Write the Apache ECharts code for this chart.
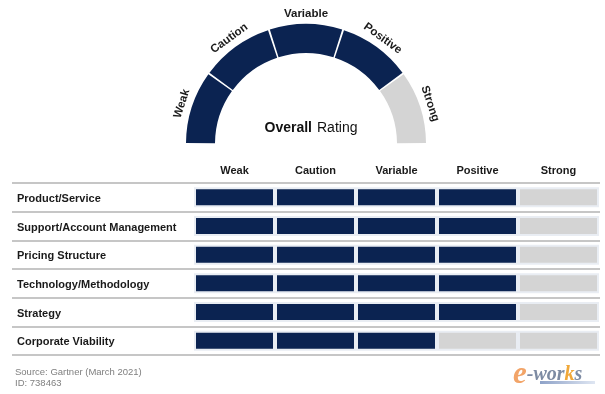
<!DOCTYPE html>
<html>
<head>
<meta charset="utf-8">
<script src="https://cdn.jsdelivr.net/npm/echarts@6/dist/echarts.min.js"></script>
<style>
html,body{margin:0;padding:0;background:#fff;}
#c{width:605px;height:394px;}
</style>
</head>
<body>
<div id="c"></div>
<script>
// ---- data ----
var ratingLevels = ['Weak', 'Caution', 'Variable', 'Positive', 'Strong'];
var overallScore = 4; // filled segments of the gauge
var rowCategories = ['Product/Service', 'Support/Account Management', 'Pricing Structure', 'Technology/Methodology', 'Strategy', 'Corporate Viability'];
var rowScores = [4, 4, 4, 4, 4, 3];
var sourceText = 'Source: Gartner (March 2021)';
var idText = 'ID: 738463';

// ---- styles ----
var NAVY = '#0b2351';
var GREY = '#d4d4d4';
var FONT = '"Liberation Sans", Arial, sans-serif';

var chart = echarts.init(document.getElementById('c'), null, {renderer: 'canvas'});

var gaugeData = ratingLevels.map(function (lv, i) {
  return {name: lv, value: 1, itemStyle: {color: i < overallScore ? NAVY : GREY}};
});
gaugeData.push({name: '', value: ratingLevels.length, itemStyle: {color: 'rgba(0,0,0,0)'}, label: {show: false}});

var labelRing = ratingLevels.map(function (lv) { return {name: lv, value: 1}; });
labelRing.push({name: '', value: ratingLevels.length, label: {show: false}});

var barSeries = ratingLevels.map(function (lv, ci) {
  return {
    type: 'bar', name: lv, stack: 'cells', xAxisIndex: 1, yAxisIndex: 1,
    barWidth: 20, silent: true,
    itemStyle: {borderColor: '#e9edf3', borderWidth: 2},
    data: rowScores.map(function (s) {
      return {value: 1, itemStyle: {color: s > ci ? NAVY : GREY}};
    })
  };
});

var option = {
  animation: false,
  backgroundColor: '#ffffff',
  title: [
    {
      text: '{b|Overall} {n|Rating}',
      left: 306, top: 114, textAlign: 'center',
      textStyle: {rich: {
        b: {fontFamily: FONT, fontSize: 14, fontWeight: 'bold', color: '#111'},
        n: {fontFamily: FONT, fontSize: 14, fontWeight: 'normal', color: '#111'}
      }}
    },
    {
      text: sourceText + '\n' + idText,
      left: 10, top: 362,
      textStyle: {fontFamily: FONT, fontSize: 9.5, fontWeight: 'normal', color: '#7f7f7f', lineHeight: 11}
    },
    {
      text: '{e|e}{w|-wor}{k|k}{s|s}',
      left: 508, top: 354,
      textStyle: {rich: {
        e: {fontFamily: '"Liberation Serif", serif', fontStyle: 'italic', fontSize: 31, color: '#f2a468'},
        w: {fontFamily: '"Liberation Serif", serif', fontStyle: 'italic', fontWeight: 'bold', fontSize: 20, color: '#7d8ba3'},
        k: {fontFamily: '"Liberation Serif", serif', fontStyle: 'italic', fontWeight: 'bold', fontSize: 20, color: '#f0a83a'},
        s: {fontFamily: '"Liberation Serif", serif', fontStyle: 'italic', fontWeight: 'bold', fontSize: 20, color: '#7d8ba3'}
      }}
    }
  ],
  graphic: [
    {type: 'rect', left: 540, top: 381, z: -1, shape: {width: 55, height: 3},
     style: {fill: new echarts.graphic.LinearGradient(0, 0, 1, 0, [{offset: 0, color: '#8ea2c8'}, {offset: 1, color: '#dfe6f2'}])}}
  ],
  grid: [
    {left: 12, right: 5, top: 183, bottom: 39},
    {left: 194, right: 6, top: 183, bottom: 39}
  ],
  xAxis: [
    {type: 'value', gridIndex: 0, show: false, min: 0, max: 1},
    {type: 'value', gridIndex: 1, show: false, min: 0, max: ratingLevels.length},
    {type: 'category', gridIndex: 1, position: 'top', data: ratingLevels,
     axisLine: {show: false}, axisTick: {show: false}, splitLine: {show: false},
     axisLabel: {margin: 7, fontFamily: FONT, fontSize: 11, fontWeight: 'bold', color: '#1a1a1a'}}
  ],
  yAxis: [
    {type: 'category', gridIndex: 0, inverse: true, data: rowCategories,
     axisLine: {show: false}, axisTick: {show: false},
     splitLine: {show: true, showMinLine: true, showMaxLine: true, lineStyle: {color: '#c6c6c6', width: 2}},
     axisLabel: {inside: true, margin: 5, formatter: '{r|{value}}',
       rich: {r: {padding: [3, 0, 0, 0], fontFamily: FONT, fontSize: 11, fontWeight: 'bold', color: '#1a1a1a'}}}},
    {type: 'category', gridIndex: 1, inverse: true, data: rowCategories, show: false}
  ],
  series: [
    {
      type: 'pie', center: [306, 144], radius: [91, 120], startAngle: 180,
      padAngle: 0.9, silent: true, label: {show: false}, labelLine: {show: false},
      emphasis: {disabled: true},
      data: gaugeData
    },
    {
      type: 'pie', center: [306, 144], radius: [120, 135], startAngle: 180,
      silent: true, itemStyle: {color: 'rgba(0,0,0,0)'}, labelLine: {show: false},
      emphasis: {disabled: true},
      label: {show: true, position: 'inside', rotate: 'tangential', formatter: '{b}',
              fontFamily: FONT, fontSize: 11.5, fontWeight: 'bold', color: '#1a1a1a'},
      data: labelRing
    }
  ].concat(barSeries)
};
chart.setOption(option);
</script>
</body>
</html>
